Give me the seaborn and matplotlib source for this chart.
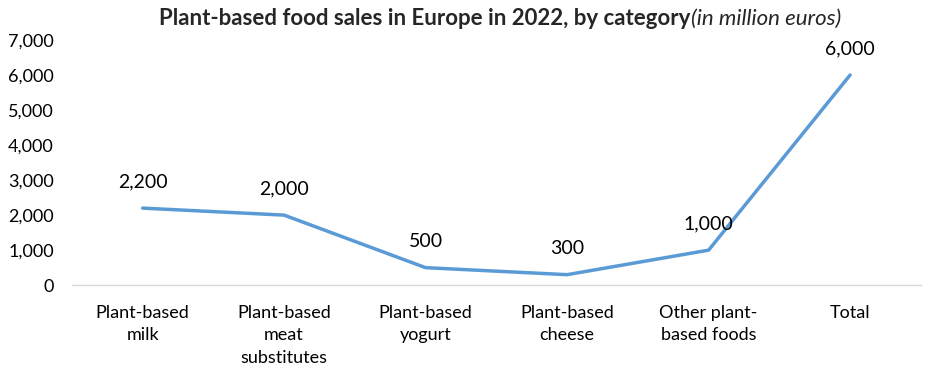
import matplotlib
matplotlib.use("Agg")
import matplotlib.pyplot as plt
import pandas as pd
import seaborn as sns
from matplotlib.ticker import FuncFormatter

categories = ["Plant-based\nmilk", "Plant-based\nmeat\nsubstitutes", "Plant-based\nyogurt",
              "Plant-based\ncheese", "Other plant-\nbased foods", "Total"]
sales = [2200, 2000, 500, 300, 1000, 6000]
y_ticks = [0, 1000, 2000, 3000, 4000, 5000, 6000, 7000]

sns.set_theme(style="white")
plt.rcParams["font.family"] = ["Lato", "DejaVu Sans"]

df = pd.DataFrame({"category": categories, "sales": sales})

fig = plt.figure(figsize=(9.33, 3.88), dpi=100)
ax = fig.add_axes([0.077, 0.265, 0.91, 0.632])

sns.lineplot(data=df, x="category", y="sales", sort=False, ax=ax,
             color="#5b9bd5", linewidth=2.5)

ax.set_xlim(-0.5, len(categories) - 0.5)
ax.set_ylim(0, 7000)
ax.set_yticks(y_ticks)
ax.yaxis.set_major_formatter(FuncFormatter(lambda v, _: f"{int(v):,}"))
ax.set_xlabel("")
ax.set_ylabel("")

for s in ["top", "right", "left"]:
    ax.spines[s].set_visible(False)
ax.spines["bottom"].set_color("#d9d9d9")
ax.spines["bottom"].set_linewidth(1)

ax.tick_params(axis="y", length=0, pad=13, labelsize=13, colors="black")
ax.tick_params(axis="x", length=0, pad=14, labelsize=13, colors="black")
for lbl in ax.get_xticklabels():
    lbl.set_linespacing(1.52)

for i, v in enumerate(sales):
    ax.annotate(f"{v:,}", (i, v), xytext=(0, 19), textcoords="offset points",
                ha="center", va="center", fontsize=14, color="black")

# title: bold part + italic part side by side, centred as a whole
t1 = fig.text(0, 0.952, "Plant-based food sales in Europe in 2022, by category",
              fontsize=16, fontweight="bold", ha="left", va="center")
t2 = fig.text(0, 0.952, "(in million euros)", fontsize=16, fontstyle="italic",
              ha="left", va="center")
fig.canvas.draw()
w1 = t1.get_window_extent().width
w2 = t2.get_window_extent().width
start = 500 - (w1 + w2) / 2
t1.set_x(start / fig.bbox.width)
t2.set_x((start + w1) / fig.bbox.width)

fig.savefig("out.png", dpi=100)
plt.close()
